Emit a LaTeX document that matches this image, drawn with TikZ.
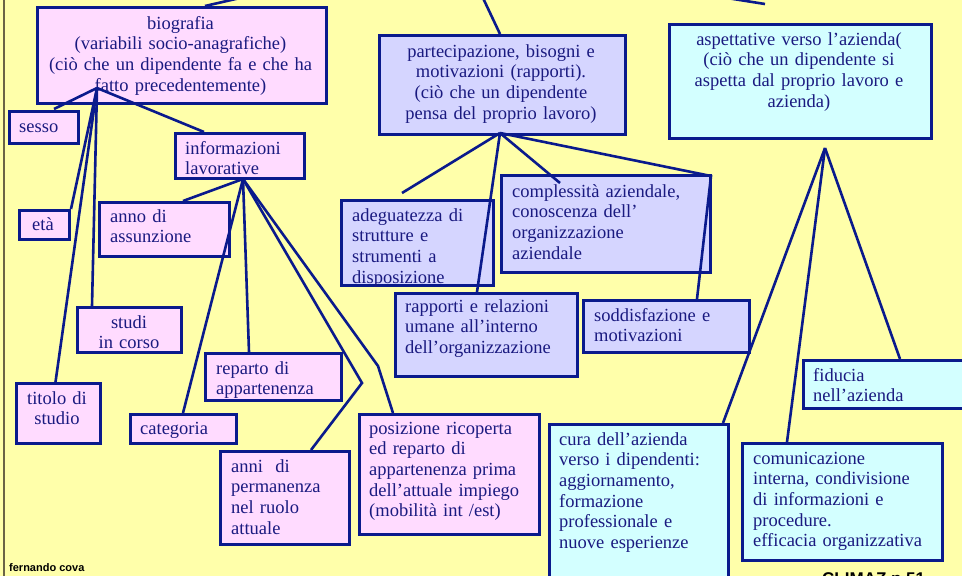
\documentclass[tikz,border=0pt]{standalone}
\usepackage{fontspec}
\setmainfont{Liberation Serif}
\setsansfont{Liberation Sans}
\usetikzlibrary{calc}
\definecolor{bgy}{HTML}{FFFFAA}
\definecolor{pinkf}{HTML}{FFDBFF}
\definecolor{lavf}{HTML}{D5D5FF}
\definecolor{cyanf}{HTML}{D3FFFF}
\definecolor{navy}{HTML}{0A1A8C}
\definecolor{txtc}{HTML}{1A1A80}
\definecolor{edgec}{HTML}{6B6445}
\tikzset{
  boxbase/.style={draw=navy, line width=3pt, inner sep=0pt, anchor=north west},
  pinkbox/.style={boxbase, fill=pinkf},
  lavbox/.style={boxbase, fill=lavf},
  cyanbox/.style={boxbase, fill=cyanf},
  txt/.style={text=txtc, inner sep=0pt, text width=300pt,
    font=\fontsize{18.5}{20.7}\selectfont},
  txtl/.style={txt, align=left, anchor=base west},
  txtc/.style={txt, align=center, anchor=base},
  conn/.style={draw=navy, line width=2.6pt, line join=miter},
  foot/.style={inner sep=0pt, anchor=base west, text=black}
}
\newcommand\mybox[6]{%
  \node[#2, minimum width={#5-#3}, minimum height={#6-#4}] (#1) at (#3,#4) {};}
\begin{document}
\begin{tikzpicture}[x=1pt,y=-1pt]
\clip (0,0) rectangle (962,576);
\fill[bgy] (0,0) rectangle (962,576);
\draw[edgec, line width=2pt] (4,0) -- (4,576);

% ---- boxes: biografia branch
\mybox{bio}{pinkbox}{36}{6}{325}{102}
\node[txtc] (bioT) at (180.5,29) {biografia\\(variabili socio-anagrafiche)\\(ciò che un dipendente fa e che ha\\fatto precedentemente)};
\mybox{sesso}{pinkbox}{8}{110}{77}{142}
\node[txtl] (sessoT) at (19,132) {sesso};
\mybox{info}{pinkbox}{174}{132}{303}{177}
\node[txtl] (infoT) at (185,154) {informazioni\\lavorative};
\mybox{eta}{pinkbox}{18}{209}{68}{238}
\node[txtl] (etaT) at (32,230) {età};
\mybox{anno}{pinkbox}{98}{201}{228}{255}
\node[txtl] (annoT) at (110,222) {anno di\\assunzione};
\mybox{studi}{pinkbox}{76}{306}{180}{351}
\node[txtc] (studiT) at (129,328) {studi\\in corso};
\mybox{titolo}{pinkbox}{15}{382}{99}{442}
\node[txtc] (titoloT) at (57,404) {titolo di\\studio};
\mybox{reparto}{pinkbox}{204}{352}{340}{399}
\node[txtl] (repartoT) at (216,374) {reparto di\\appartenenza};
\mybox{categoria}{pinkbox}{129}{413}{235}{442}
\node[txtl] (categoriaT) at (140,434) {categoria};
\mybox{anni}{pinkbox}{219}{450}{348}{543}
\node[txtl] (anniT) at (231,472) {anni~ di\\permanenza\\nel ruolo\\attuale};
\mybox{posiz}{pinkbox}{358}{413}{538}{533}
\node[txtl] (posizT) at (369,434) {posizione ricoperta\\ed reparto di\\appartenenza prima\\dell’attuale impiego\\(mobilità int /est)};

% ---- partecipazione branch
\mybox{partec}{lavbox}{378}{34}{624}{133}
\node[txtc] (partecT) at (501,57) {partecipazione, bisogni e\\motivazioni (rapporti).\\(ciò che un dipendente\\pensa del proprio lavoro)};
\mybox{adeg}{lavbox}{340}{199}{492}{284}
\node[txtl] (adegT) at (352,221) {adeguatezza di\\strutture e\\strumenti a\\disposizione};
\mybox{compl}{lavbox}{500}{174}{709}{271}
\node[txtl] (complT) at (512,197) {complessità aziendale,\\conoscenza dell’\\organizzazione\\aziendale};
\mybox{rapp}{lavbox}{394}{292}{576}{375}
\node[txtl] (rappT) at (405,312) {rapporti e relazioni\\umane all’interno\\dell’organizzazione};
\mybox{sodd}{lavbox}{582}{299}{748}{351}
\node[txtl] (soddT) at (594,321) {soddisfazione e\\motivazioni};

% ---- aspettative branch
\mybox{aspett}{cyanbox}{668}{23}{930}{137}
\node[txtc] (aspettT) at (799,45) {aspettative verso l’azienda(\\(ciò che un dipendente si\\aspetta dal proprio lavoro e\\azienda)};
\mybox{fiducia}{cyanbox}{802}{359}{966}{407}
\node[txtl] (fiduciaT) at (813,381) {fiducia\\nell’azienda};
\mybox{cura}{cyanbox}{548}{423}{727}{592}
\node[txtl] (curaT) at (559,445) {cura dell’azienda\\verso i dipendenti:\\aggiornamento,\\formazione\\professionale e\\nuove esperienze};
\mybox{comun}{cyanbox}{741}{442}{941}{559}
\node[txtl] (comunT) at (753,464) {comunicazione\\interna, condivisione\\di informazioni e\\procedure.\\efficacia organizzativa};

% ---- junctions and free ends
\coordinate (j1) at (97,88);
\coordinate (j2) at (243,179);
\coordinate (j3) at (500,133);
\coordinate (j4) at (825,148);
\coordinate (b1) at (362,383);
\coordinate (b2) at (378,366);
\coordinate (b3) at (711,176);
\coordinate (adegEnd) at (402,193);
\coordinate (complEnd) at (560,183);
\coordinate (top1a) at (205,6);
\coordinate (top1b) at (240,-2);
\coordinate (top2a) at (500,34);
\coordinate (top2b) at (483,-2);
\coordinate (top3a) at (727,-2);
\coordinate (top3b) at (765,4);

% ---- connectors
\draw[conn] (j1) -- ($(sesso.north west)+(46,-1)$);
\draw[conn] (j1) -- (eta.north east);
\draw[conn] (j1) -- ($(titolo.north)+(-3,0)$);
\draw[conn] (j1) -- ($(studi.north west)+(16,0)$);
\draw[conn] (j1) -- ($(info.north west)+(30,0)$);

\draw[conn] (j2) -- ($(anno.north west)+(85,0)$);
\draw[conn] (j2) -- ($(categoria.north west)+(54,0)$);
\draw[conn] (j2) -- ($(reparto.north west)+(45,0)$);
\draw[conn] (j2) -- (b1) -- ($(anni.north west)+(92,0)$);
\draw[conn] (j2) -- (b2) -- ($(posiz.north west)+(35,0)$);

\draw[conn] (j3) -- (adegEnd);
\draw[conn] (j3) -- ($(rapp.north west)+(83,0)$);
\draw[conn] (j3) -- (complEnd);
\draw[conn] (j3) -- (b3) -- ($(sodd.north west)+(115,0)$);

\draw[conn] (j4) -- ($(cura.north east)+(-7,0)$);
\draw[conn] (j4) -- ($(comun.north west)+(46,0)$);
\draw[conn] (j4) -- ($(fiducia.north west)+(98,0)$);

\draw[conn] (top1a) -- (top1b);
\draw[conn] (top2a) -- (top2b);
\draw[conn] (top3a) -- (top3b);

% ---- footer
\node[foot, font=\fontsize{11}{13}\sffamily\bfseries] (author) at (9,571) {fernando cova};
\node[foot, font=\fontsize{17}{20}\sffamily\bfseries] (page) at (822,584) {CLIMAZ p 51};
\end{tikzpicture}
\end{document}
